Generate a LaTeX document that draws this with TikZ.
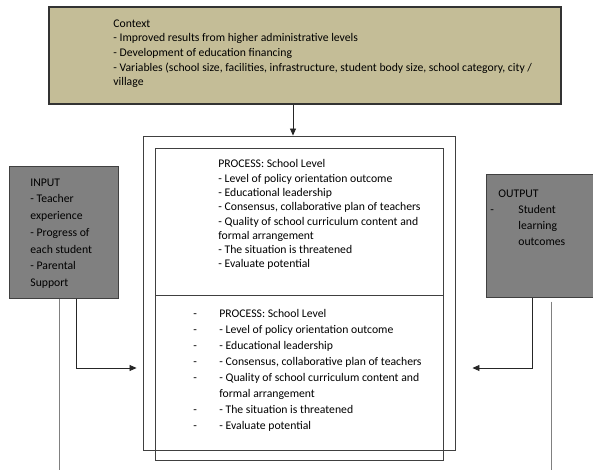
\documentclass[tikz,border=0pt]{standalone}
\usepackage{fontspec}
\setmainfont{Carlito}
\usepackage{tikz}
\usetikzlibrary{arrows.meta}
\definecolor{tan}{HTML}{C4BD97}
\definecolor{boxgray}{HTML}{808080}

\begin{document}
\begin{tikzpicture}[x=1pt,y=-1pt,>={Triangle[length=7pt,width=6pt]},
  line width=0.8pt,
  ctx node/.style={rectangle,draw=black!80,fill=tan,line width=1.2pt,inner sep=0pt,
                   minimum width=512pt,minimum height=97pt},
  side node/.style={rectangle,draw=black!75,fill=boxgray,line width=1pt,inner sep=0pt},
  frame node/.style={rectangle,draw=black!75,line width=0.9pt,inner sep=0pt},
  txt node/.style={anchor=north west,inner sep=0pt,align=left,
                   font=\fontsize{11.7}{14.6}\selectfont},
  link/.style={draw=black!85,->},
  rail/.style={draw=black!50,-}]
  \useasboundingbox (0,0) rectangle (593,470);

  % boxes
  \node[ctx node] (ctx) at (305,55.5) {};
  \node[frame node,minimum width=312pt,minimum height=314pt] (frame) at (299,293) {};
  \node[frame node,minimum width=288pt,minimum height=147pt] (procA) at (299,221.5) {};
  \node[frame node,minimum width=288pt,minimum height=165pt] (procB) at (299,377.5) {};
  \node[side node,minimum width=109pt,minimum height=131pt] (in) at (63.5,232.5) {};
  \node[side node,minimum width=108pt,minimum height=122pt] (out) at (540,236) {};

  % texts
  \node[txt node] (ctxtext) at (113,19.3) {Context\\
    - Improved results from higher administrative levels\\
    - Development of education financing\\
    - Variables (school size, facilities, infrastructure, student body size, school category, city /\\
    village};
  \node[txt node,font=\fontsize{11.7}{14.3}\selectfont] (procAtext) at (218,159.3) {PROCESS: School Level\\
    - Level of policy orientation outcome\\
    - Educational leadership\\
    - Consensus, collaborative plan of teachers\\
    - Quality of school curriculum content and\\
    formal arrangement\\
    - The situation is threatened\\
    - Evaluate potential};
  \node[txt node,font=\fontsize{11.7}{16}\selectfont] (procBtext) at (193,305.6) {%
    \begin{tabular}{@{}p{26pt}@{}l@{}}
    - & PROCESS: School Level\\
    - & - Level of policy orientation outcome\\
    - & - Educational leadership\\
    - & - Consensus, collaborative plan of teachers\\
    - & - Quality of school curriculum content and\\
      & formal arrangement\\
    - & - The situation is threatened\\
    - & - Evaluate potential
    \end{tabular}};
  \node[txt node,font=\fontsize{11.7}{16.7}\selectfont] (intext) at (30,178.3) {INPUT\\
    - Teacher\\ experience\\ - Progress of\\ each student\\ - Parental\\ Support};
  \node[txt node,font=\fontsize{11.7}{16}\selectfont] (outtext) at (490,185.6) {%
    \begin{tabular}{@{}p{28pt}@{}l@{}}
    \multicolumn{2}{@{}l@{}}{\hspace{8pt}OUTPUT}\\
    - & Student\\
      & learning\\
      & outcomes
    \end{tabular}};

  % connectors
  \coordinate (inend) at (59,470);
  \coordinate (outend) at (551,470);
  \draw[link] ([xshift=-12pt]ctx.south) -- ([xshift=-6pt]frame.north);
  \draw[link] ([xshift=12.5pt]in.south) |- ([xshift=-6pt,yshift=-75pt]frame.west);
  \draw[link] ([xshift=-8pt]out.south) |- ([xshift=17pt,yshift=-75pt]frame.east);
  \draw[rail] ([xshift=-4.5pt]in.south) -- (inend);
  \draw[rail] ([xshift=11pt,yshift=-4pt]out.south) -- (outend);
\end{tikzpicture}
\end{document}
